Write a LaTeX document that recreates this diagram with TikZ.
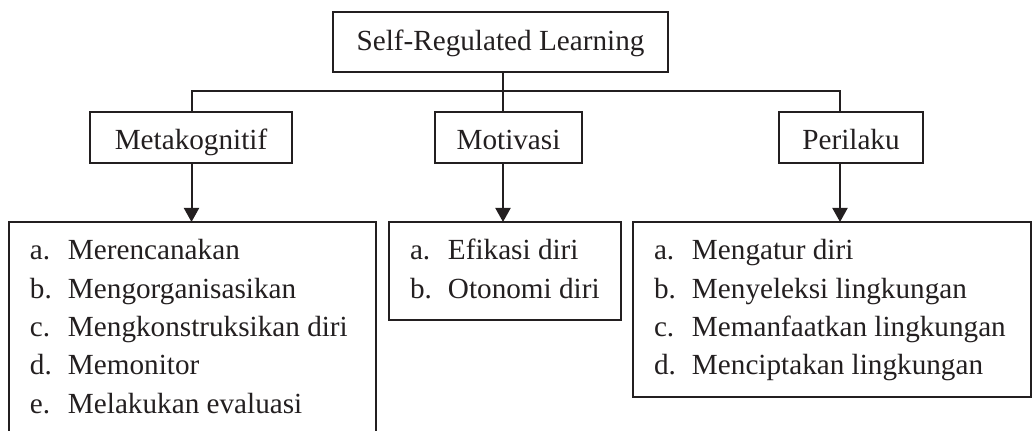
\documentclass[tikz,border=0pt]{standalone}
\usepackage{fontspec}
\setmainfont{Liberation Serif}
\usetikzlibrary{arrows.meta}
\definecolor{ink}{HTML}{231F20}
\newcommand{\itm}[2]{\makebox[19pt][l]{#1}#2}
\begin{document}
\begin{tikzpicture}[x=0.5pt,y=-0.5pt, line width=1pt,
  box/.style={draw=ink, rectangle, inner sep=0pt, outer sep=0pt, text=ink, font=\fontsize{14.6}{19.15}\selectfont},
  head/.style={box, text height=12.2pt, text depth=0pt, minimum height=25.5pt},
  lst/.style={anchor=base west, inner sep=0pt, outer sep=0pt, text=ink, font=\fontsize{14.6}{19.15}\selectfont},
  arr/.style={-{Triangle[width=7.5pt,length=7pt]}},
  conn/.style={draw=ink, line width=1pt}]
\useasboundingbox (0,0) rectangle (1034,431);
\node[box, minimum width=167.5pt, minimum height=30pt, text height=8.7pt, text depth=0pt] (top) at (500.5,42.3) {Self-Regulated Learning};
\node[head, minimum width=101pt] (meta) at (191,137.8) {Metakognitif};
\node[head, minimum width=73.5pt] (moti) at (508.5,137.8) {Motivasi};
\node[head, minimum width=72pt] (peri) at (851,137.8) {Perilaku};
\coordinate (c1) at (191.5,91);
\coordinate (c2) at (503,91);
\coordinate (c3) at (840,91);
\node[box, draw=none, anchor=north west, minimum width=183.5pt, minimum height=104.5pt] (l1) at (9,222) {};
\node[box, anchor=north west, minimum width=116pt, minimum height=49pt] (l2) at (389,222) {};
\node[box, anchor=north west, minimum width=199pt, minimum height=87.5pt] (l3) at (633,222) {};
\draw[conn] (l1.south west) |- (l1.north east) -- (l1.south east);
\draw[conn] (c2 |- top.south) -- (c2);
\draw[conn] (c1 |- meta.north) -- (c1) -- (c3) -- (c3 |- peri.north);
\draw[conn] (c2) -- (c2 |- moti.north);
\draw[conn, arr] (c1 |- meta.south) -- (c1 |- l1.north);
\draw[conn, arr] (c2 |- moti.south) -- (c2 |- l2.north);
\draw[conn, arr] (c3 |- peri.south) -- (c3 |- l3.north);
\node[lst] (t1) at ([shift={(21,38)}]l1.north west) {\begin{tabular}[t]{@{}l@{}}\itm{a.}{Merencanakan}\\ \itm{b.}{Mengorganisasikan}\\ \itm{c.}{Mengkonstruksikan diri}\\ \itm{d.}{Memonitor}\\ \itm{e.}{Melakukan evaluasi}\end{tabular}};
\node[lst] (t2) at ([shift={(21,38)}]l2.north west) {\begin{tabular}[t]{@{}l@{}}\itm{a.}{Efikasi diri}\\ \itm{b.}{Otonomi diri}\end{tabular}};
\node[lst] (t3) at ([shift={(21,38)}]l3.north west) {\begin{tabular}[t]{@{}l@{}}\itm{a.}{Mengatur diri}\\ \itm{b.}{Menyeleksi lingkungan}\\ \itm{c.}{Memanfaatkan lingkungan}\\ \itm{d.}{Menciptakan lingkungan}\end{tabular}};
\end{tikzpicture}
\end{document}
